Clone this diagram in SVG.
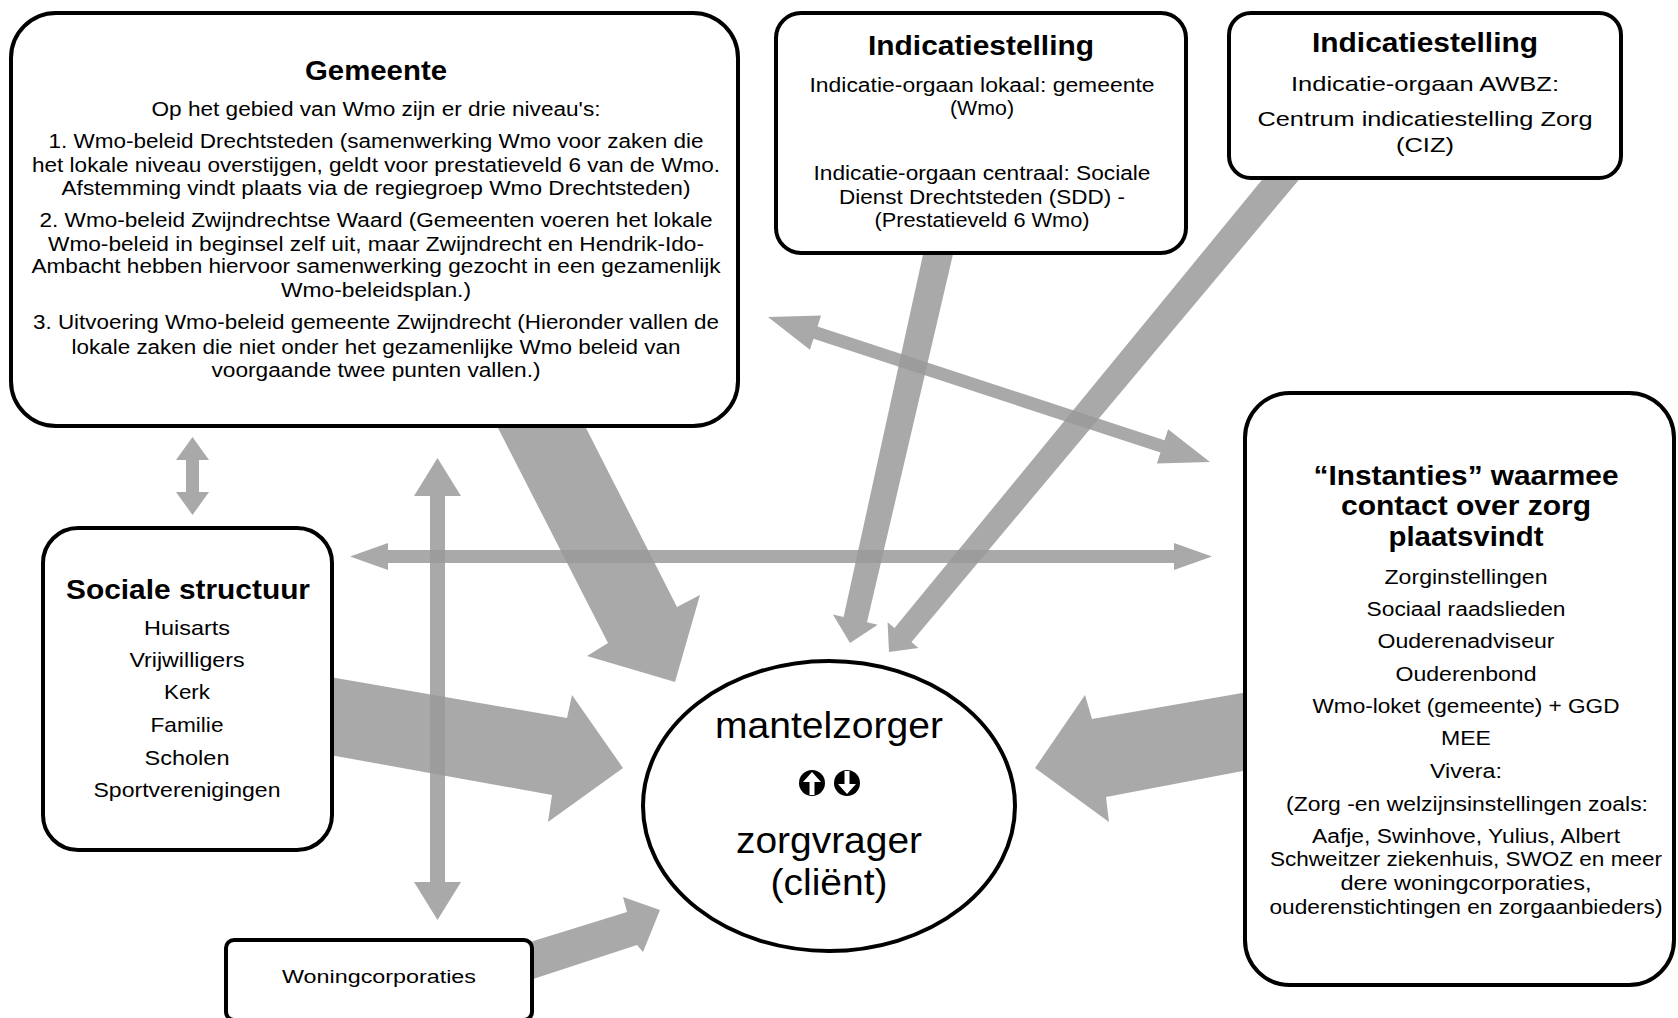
<svg xmlns="http://www.w3.org/2000/svg" width="1678" height="1018" viewBox="0 0 1678 1018">
<style>
.box{fill:#fff;stroke:#000;stroke-width:4}
.arr{fill:#9a9a9a;fill-opacity:0.85;stroke:none}
text{font-family:"Liberation Sans",Arial,sans-serif;fill:#000;text-anchor:middle}
.t{font-weight:bold;font-size:28px}
.b{font-size:20px}
.s{font-size:21px}
.e{font-size:36px}
</style>
<rect width="1678" height="1018" fill="#fff"/>
<g id="connectors">
<polygon class="arr" points="192.5,437 209,460 199,460 199,492 209,492 192.5,515 176,492 186,492 186,460 176,460"/>
<polygon class="arr" points="437.5,458 461,496 445,496 445,882 461,882 437.5,920 414,882 430,882 430,496 414,496"/>
<polygon class="arr" points="350,556.5 388,543 388,550 1174,550 1174,543 1212,556.5 1174,570 1174,563 388,563 388,570"/>
<polygon class="arr" points="768,317 809.9,349.7 813.5,338.8 1160.5,452.6 1156.9,463.5 1210,462 1168.1,429.3 1164.5,440.2 817.5,326.4 821.1,315.5"/>
<polygon class="arr" points="497,426 585,426 677,607 700,595 675,682 587,656 608,643"/>
<polygon class="arr" points="330,677 567,718 572,695 623,768 548,822 552,795 330,755"/>
<polygon class="arr" points="1248,692 1092,719 1085,695 1035,768 1109,822 1106,797 1248,770"/>
<polygon class="arr" points="530,942 627,912 623,897 660,910 643,952 637,945 530,980"/>
<polygon class="arr" points="924,250 954,250 867,622.3 877.7,624.7 850,643 832.9,614.5 843.6,617"/>
<polygon class="arr" points="1266.8,174 1303.8,174 911.5,642.1 918.4,647.9 889,652 887.6,622.3 894.5,628.1"/>
</g>
<g id="gemeente">
<rect class="box" x="11" y="13" width="727" height="413" rx="45"/>
<text class="t" x="376" y="80" textLength="142" lengthAdjust="spacingAndGlyphs">Gemeente</text>
<text class="b" x="376" y="116" textLength="449" lengthAdjust="spacingAndGlyphs">Op het gebied van Wmo zijn er drie niveau's:</text>
<text class="b" x="376" y="148" textLength="655" lengthAdjust="spacingAndGlyphs">1. Wmo-beleid Drechtsteden (samenwerking Wmo voor zaken die</text>
<text class="b" x="376" y="172" textLength="688" lengthAdjust="spacingAndGlyphs">het lokale niveau overstijgen, geldt voor prestatieveld 6 van de Wmo.</text>
<text class="b" x="376" y="195" textLength="629" lengthAdjust="spacingAndGlyphs">Afstemming vindt plaats via de regiegroep Wmo Drechtsteden)</text>
<text class="b" x="376" y="227" textLength="673" lengthAdjust="spacingAndGlyphs">2. Wmo-beleid Zwijndrechtse Waard (Gemeenten voeren het lokale</text>
<text class="b" x="376" y="251" textLength="656" lengthAdjust="spacingAndGlyphs">Wmo-beleid in beginsel zelf uit, maar Zwijndrecht en Hendrik-Ido-</text>
<text class="b" x="376" y="273" textLength="689" lengthAdjust="spacingAndGlyphs">Ambacht hebben hiervoor samenwerking gezocht in een gezamenlijk</text>
<text class="b" x="376" y="297" textLength="190" lengthAdjust="spacingAndGlyphs">Wmo-beleidsplan.)</text>
<text class="b" x="376" y="329" textLength="686" lengthAdjust="spacingAndGlyphs">3. Uitvoering Wmo-beleid gemeente Zwijndrecht (Hieronder vallen de</text>
<text class="b" x="376" y="354" textLength="609" lengthAdjust="spacingAndGlyphs">lokale zaken die niet onder het gezamenlijke Wmo beleid van</text>
<text class="b" x="376" y="377" textLength="329" lengthAdjust="spacingAndGlyphs">voorgaande twee punten vallen.)</text>
</g>
<g id="indicatie-lokaal">
<rect class="box" x="776" y="13" width="410" height="240" rx="25"/>
<text class="t" x="981" y="55" textLength="226" lengthAdjust="spacingAndGlyphs">Indicatiestelling</text>
<text class="b" x="982" y="92" textLength="345" lengthAdjust="spacingAndGlyphs">Indicatie-orgaan lokaal: gemeente</text>
<text class="b" x="982" y="115" textLength="64" lengthAdjust="spacingAndGlyphs">(Wmo)</text>
<text class="b" x="982" y="180" textLength="337" lengthAdjust="spacingAndGlyphs">Indicatie-orgaan centraal: Sociale</text>
<text class="b" x="982" y="204" textLength="286" lengthAdjust="spacingAndGlyphs">Dienst Drechtsteden (SDD) -</text>
<text class="b" x="982" y="227" textLength="215" lengthAdjust="spacingAndGlyphs">(Prestatieveld 6 Wmo)</text>
</g>
<g id="indicatie-awbz">
<rect class="box" x="1229" y="13" width="392" height="165" rx="22"/>
<text class="t" x="1425" y="52" textLength="226" lengthAdjust="spacingAndGlyphs">Indicatiestelling</text>
<text class="s" x="1425" y="91" textLength="268" lengthAdjust="spacingAndGlyphs">Indicatie-orgaan AWBZ:</text>
<text class="s" x="1425" y="126" textLength="335" lengthAdjust="spacingAndGlyphs">Centrum indicatiestelling Zorg</text>
<text class="s" x="1425" y="152" textLength="58" lengthAdjust="spacingAndGlyphs">(CIZ)</text>
</g>
<g id="sociale-structuur">
<rect class="box" x="43" y="528" width="289" height="322" rx="35"/>
<text class="t" x="188" y="599" textLength="244" lengthAdjust="spacingAndGlyphs">Sociale structuur</text>
<text class="s" x="187" y="635" textLength="86" lengthAdjust="spacingAndGlyphs">Huisarts</text>
<text class="s" x="187" y="667" textLength="115" lengthAdjust="spacingAndGlyphs">Vrijwilligers</text>
<text class="s" x="187" y="699" textLength="46" lengthAdjust="spacingAndGlyphs">Kerk</text>
<text class="s" x="187" y="732" textLength="73" lengthAdjust="spacingAndGlyphs">Familie</text>
<text class="s" x="187" y="765" textLength="85" lengthAdjust="spacingAndGlyphs">Scholen</text>
<text class="s" x="187" y="797" textLength="187" lengthAdjust="spacingAndGlyphs">Sportverenigingen</text>
</g>
<g id="woningcorporaties">
<rect class="box" x="226" y="940" width="306" height="80" rx="8"/>
<text x="379" y="983" font-size="18" textLength="194" lengthAdjust="spacingAndGlyphs">Woningcorporaties</text>
</g>
<g id="instanties">
<rect class="box" x="1245" y="393" width="429" height="592" rx="45"/>
<text class="t" x="1466" y="485" textLength="305" lengthAdjust="spacingAndGlyphs">“Instanties” waarmee</text>
<text class="t" x="1466" y="515" textLength="250" lengthAdjust="spacingAndGlyphs">contact over zorg</text>
<text class="t" x="1466" y="546" textLength="155" lengthAdjust="spacingAndGlyphs">plaatsvindt</text>
<text class="b" x="1466" y="584" textLength="163" lengthAdjust="spacingAndGlyphs">Zorginstellingen</text>
<text class="b" x="1466" y="616" textLength="199" lengthAdjust="spacingAndGlyphs">Sociaal raadslieden</text>
<text class="b" x="1466" y="648" textLength="177" lengthAdjust="spacingAndGlyphs">Ouderenadviseur</text>
<text class="b" x="1466" y="681" textLength="141" lengthAdjust="spacingAndGlyphs">Ouderenbond</text>
<text class="b" x="1466" y="713" textLength="307" lengthAdjust="spacingAndGlyphs">Wmo-loket (gemeente) + GGD</text>
<text class="b" x="1466" y="745" textLength="50" lengthAdjust="spacingAndGlyphs">MEE</text>
<text class="b" x="1466" y="778" textLength="72" lengthAdjust="spacingAndGlyphs">Vivera:</text>
<text class="b" x="1467" y="811" textLength="362" lengthAdjust="spacingAndGlyphs">(Zorg -en welzijnsinstellingen zoals:</text>
<text class="b" x="1466" y="843" textLength="308" lengthAdjust="spacingAndGlyphs">Aafje, Swinhove, Yulius, Albert</text>
<text class="b" x="1466" y="866" textLength="392" lengthAdjust="spacingAndGlyphs">Schweitzer ziekenhuis, SWOZ en meer</text>
<text class="b" x="1466" y="890" textLength="251" lengthAdjust="spacingAndGlyphs">dere woningcorporaties,</text>
<text class="b" x="1466" y="914" textLength="393" lengthAdjust="spacingAndGlyphs">ouderenstichtingen en zorgaanbieders)</text>
</g>
<g id="mantelzorger">
<ellipse class="box" cx="829" cy="806" rx="186" ry="145"/>
<text class="e" x="829" y="738" textLength="228" lengthAdjust="spacingAndGlyphs">mantelzorger</text>
<circle cx="812" cy="783" r="13" fill="#000"/>
<polygon points="812,772 821,782 814.5,782 814.5,795 809.5,795 809.5,782 803,782" fill="#fff"/>
<circle cx="847" cy="783" r="13" fill="#000"/>
<polygon points="847,794 856,784 849.5,784 849.5,771 844.5,771 844.5,784 838,784" fill="#fff"/>
<text class="e" x="829" y="853" textLength="186" lengthAdjust="spacingAndGlyphs">zorgvrager</text>
<text class="e" x="829" y="895" textLength="117" lengthAdjust="spacingAndGlyphs">(cliënt)</text>
</g>
</svg>
